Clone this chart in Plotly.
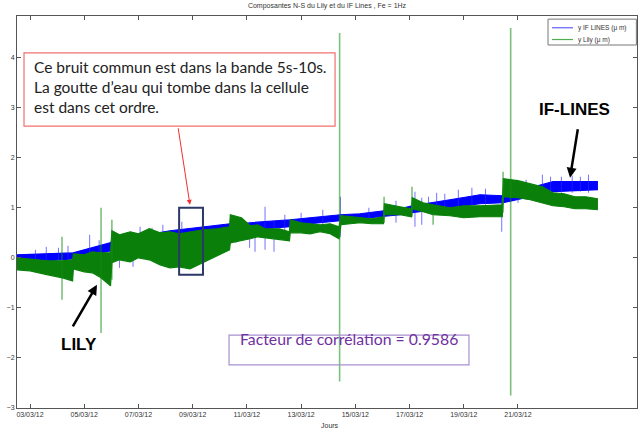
import numpy as np
import pandas as pd
import plotly.graph_objects as go

# ---- data (day of March 2012, values in micrometres) ----
blue_days = [2.52, 3.0, 3.5, 4.1, 4.59, 5.0, 5.62, 5.95, 6.05, 6.7, 7.4, 8.16, 8.8, 9.38, 10.38,
             11.12, 11.67, 12.59, 13.33, 14.07, 14.45, 15.17, 16.06, 16.65, 17.09, 17.87,
             18.49, 19.60, 20.45, 21.0, 21.45, 22.29, 23.10, 23.95]
blue_lo = [-0.10, -0.08, -0.06, -0.04, -0.02, 0.02, 0.10, 0.14, 0.06, 0.16, 0.26, 0.38, 0.42, 0.46, 0.52,
           0.56, 0.58, 0.62, 0.68, 0.72, 0.74, 0.78, 0.82, 0.86, 0.90, 0.96,
           1.00, 1.08, 1.10, 1.16, 1.22, 1.32, 1.34, 1.36]
blue_hi = [0.06, 0.07, 0.08, 0.08, 0.10, 0.16, 0.26, 0.30, 0.34, 0.40, 0.48, 0.54, 0.58, 0.62, 0.68,
           0.70, 0.72, 0.76, 0.80, 0.84, 0.86, 0.88, 0.94, 0.98, 1.04, 1.10,
           1.16, 1.26, 1.24, 1.32, 1.40, 1.52, 1.52, 1.52]

green_days = [2.52, 3.0, 3.66, 4.2, 4.57, 4.60, 5.0, 5.3, 5.62, 5.97, 6.02, 6.3, 6.7, 7.0, 7.4,
              7.8, 8.16, 8.5, 8.9, 9.38, 9.9, 10.36, 10.39, 10.8, 11.12, 11.4, 11.67, 12.2, 12.57,
              12.60, 13.0, 13.33, 13.7, 14.07, 14.40, 14.47, 15.17, 15.6, 16.04, 16.07, 16.65,
              17.07, 17.10, 17.5, 17.87, 18.49, 19.0, 19.60, 20.42, 20.46, 21.0, 21.45, 21.9,
              22.29, 22.7, 23.10, 23.5, 23.95]
green_lo = [-0.24, -0.26, -0.34, -0.40, -0.46, -0.22, -0.28, -0.30, -0.40, -0.56, -0.10, -0.04,
            -0.08, 0.00, -0.04, -0.14, -0.20, -0.18, -0.22, -0.10, 0.04, 0.16, 0.30, 0.34,
            0.38, 0.42, 0.40, 0.36, 0.34, 0.50, 0.50, 0.48, 0.52, 0.48, 0.38, 0.66, 0.70,
            0.68, 0.68, 0.86, 0.86, 0.82, 0.98, 0.92, 0.86, 0.84, 0.80, 0.82, 0.82, 1.22, 1.20,
            1.16, 1.10, 1.04, 1.02, 0.98, 0.98, 0.96]
green_hi = [0.00, -0.02, -0.06, -0.06, -0.04, 0.08, 0.06, 0.12, 0.10, 0.10, 0.54, 0.46, 0.52,
            0.48, 0.58, 0.50, 0.52, 0.48, 0.52, 0.56, 0.58, 0.62, 0.86, 0.80, 0.64, 0.66, 0.58,
            0.58, 0.52, 0.76, 0.70, 0.68, 0.66, 0.68, 0.62, 0.84, 0.80, 0.78, 0.82, 1.08, 1.02,
            0.98, 1.20, 1.10, 1.06, 1.00, 1.04, 1.04, 1.06, 1.58, 1.54, 1.48, 1.42, 1.30, 1.28,
            1.22, 1.22, 1.18]

green_spike_days = [4.18, 5.62, 6.02, 14.42, 16.06, 17.09, 17.87, 20.45, 20.73]
green_spike_lo = [-0.84, -1.50, -0.44, -2.47, 0.70, 0.82, 0.66, 0.90, -2.75]
green_spike_hi = [0.42, 1.00, 0.76, 4.49, 1.22, 1.42, 0.90, 1.72, 4.59]

blue_spike_days = [3.2, 3.6, 4.05, 4.4, 5.2, 5.55, 6.3, 6.8, 7.06, 7.5, 7.9, 8.6, 10.6, 11.1,
                   11.3, 11.67, 12.0, 12.4, 13.0, 13.8, 14.45, 15.5, 16.5, 17.2, 17.45, 17.7,
                   18.0, 18.3, 18.8, 19.3, 19.8, 20.4, 21.0, 21.3, 21.9, 22.2, 22.6, 23.0,
                   23.3, 23.6]
blue_spike_lo = [-0.08, -0.10, -0.05, -0.02, 0.05, 0.10, -0.20, -0.18, 0.10, 0.20, 0.20, 0.30,
                 0.30, 0.20, 0.12, 0.16, 0.12, 0.40, 0.60, 0.66, 0.42, 0.76, 0.70, 0.62, 0.66,
                 0.90, 0.90, 0.96, 0.94, 1.00, 1.06, 0.52, 1.10, 1.16, 1.20, 1.26, 1.30, 1.30,
                 1.32, 1.30]
blue_spike_hi = [0.16, 0.22, 0.20, 0.24, 0.46, 0.35, 0.30, 0.40, 0.62, 0.60, 0.66, 0.72,
                 0.74, 0.72, 0.60, 1.02, 0.74, 0.86, 0.90, 0.96, 1.22, 1.00, 1.14, 1.32, 1.20,
                 1.22, 1.30, 1.28, 1.36, 1.40, 1.38, 1.20, 1.50, 1.56, 1.66, 1.62, 1.62, 1.64,
                 1.62, 1.66]

series_names = ["y IF LINES (\u03bc m)", "y Lily (\u03bc m)"]
y_ticks = [-3, -2, -1, 0, 1, 2, 3, 4]
x_tick_days = [3, 5, 7, 9, 11, 13, 15, 17, 19, 21]

BASE = pd.Timestamp("2012-03-01")


def to_dt(days):
    return [BASE + pd.Timedelta(days=d - 1) for d in days]


def spikes(days, lo, hi):
    xs, ys = [], []
    for d, a, b in zip(to_dt(days), lo, hi):
        xs += [d, d, None]
        ys += [a, b, None]
    return xs, ys


BLUE = "#0000ff"
GREEN = "#0a800a"

fig = go.Figure()
# blue band
fig.add_trace(go.Scatter(x=to_dt(blue_days), y=blue_lo, mode="lines",
                         line=dict(color=BLUE, width=1.2), showlegend=False, hoverinfo="skip"))
fig.add_trace(go.Scatter(x=to_dt(blue_days), y=blue_hi, mode="lines", fill="tonexty",
                         fillcolor=BLUE, line=dict(color=BLUE, width=1.2), name=series_names[0],
                         showlegend=False, hoverinfo="skip"))
bx, by = spikes(blue_spike_days, blue_spike_lo, blue_spike_hi)
fig.add_trace(go.Scatter(x=bx, y=by, mode="lines", line=dict(color="rgba(40,40,255,0.65)", width=1),
                         showlegend=False, hoverinfo="skip"))
# green band
fig.add_trace(go.Scatter(x=to_dt(green_days), y=green_lo, mode="lines",
                         line=dict(color=GREEN, width=1.2), showlegend=False, hoverinfo="skip"))
fig.add_trace(go.Scatter(x=to_dt(green_days), y=green_hi, mode="lines", fill="tonexty",
                         fillcolor=GREEN, line=dict(color=GREEN, width=1.2), name=series_names[1],
                         showlegend=False, hoverinfo="skip"))
gx, gy = spikes(green_spike_days, green_spike_lo, green_spike_hi)
fig.add_trace(go.Scatter(x=gx, y=gy, mode="lines", line=dict(color="rgba(20,140,20,0.55)", width=1.6),
                         showlegend=False, hoverinfo="skip"))

axis_common = dict(showline=True, linecolor="#555555", linewidth=1, mirror="ticks",
                   ticks="inside", ticklen=4, tickcolor="#555555", showgrid=False,
                   zeroline=False, automargin=False,
                   tickfont=dict(family="Liberation Sans", size=7, color="#333333"))

fig.update_layout(
    width=643, height=434,
    margin=dict(l=17, r=6, t=16, b=26),
    paper_bgcolor="white", plot_bgcolor="white",
    title=dict(text="Composantes N-S du Lily et du IF Lines , Fe = 1Hz", x=0.5, xref="paper",
               y=0.987, yref="container", yanchor="middle",
               font=dict(family="Liberation Sans", size=7, color="#333333")),
    xaxis=dict(type="date", range=[BASE + pd.Timedelta(days=1.52), BASE + pd.Timedelta(days=24.39)],
               tickvals=to_dt(x_tick_days), tickformat="%d/%m/%y", **axis_common),
    yaxis=dict(range=[-3, 4.83], tickvals=y_ticks, **axis_common),
    showlegend=False,
)

# compact MATLAB-style legend box
fig.add_shape(type="rect", xref="paper", yref="paper", x0=0.8565, x1=0.999, y0=0.926, y1=0.992,
              line=dict(color="#777777", width=1), fillcolor="white", layer="above")
for name, col, yy in [(series_names[0], "#6060ff", 0.970), (series_names[1], "#4fae4f", 0.940)]:
    fig.add_shape(type="line", xref="paper", yref="paper", x0=0.8629, x1=0.8968, y0=yy, y1=yy,
                  line=dict(color=col, width=1.2), layer="above")
    fig.add_annotation(text=name, xref="paper", yref="paper", x=0.9016, y=yy, xanchor="left",
                       yanchor="middle", showarrow=False,
                       font=dict(family="Liberation Sans", size=6.5, color="#333333"))

# x axis title (partially cut at bottom in the original)
fig.add_annotation(text="Jours", xref="paper", yref="paper", x=0.505, y=-0.058, showarrow=False,
                   font=dict(family="Liberation Sans", size=7, color="#333333"))

# red note box
fig.add_shape(type="rect", xref="paper", yref="paper", x0=0.0113, x1=0.513, y0=0.719, y1=0.906,
              line=dict(color="#f07070", width=1.2), fillcolor="white", layer="above")
fig.add_annotation(text="Ce bruit commun est dans la bande 5s-10s.<br>La goutte d\u2019eau qui tombe dans la cellule<br>est dans cet ordre.",
                   xref="paper", yref="paper", x=0.0245, y=0.897, xanchor="left", yanchor="top",
                   align="left", showarrow=False,
                   font=dict(family="Lato", size=15.5, color="#222222"))
# red arrow to the highlighted box
fig.add_annotation(x=BASE + pd.Timedelta(days=7.90), y=1.06, xref="x", yref="y", text="",
                   showarrow=True, ax=-12, ay=-78, arrowcolor="#f03030", arrowwidth=1,
                   arrowhead=2, arrowsize=1)
# highlighted rectangle
fig.add_shape(type="rect", xref="x", yref="y", x0=BASE + pd.Timedelta(days=7.50),
              x1=BASE + pd.Timedelta(days=8.38), y0=-0.34, y1=1.0,
              line=dict(color="#2b3868", width=2), layer="above")

# LILY label
fig.add_annotation(x=BASE + pd.Timedelta(days=4.47), y=-0.54, text="", showarrow=True,
                   ax=-25, ay=43, arrowcolor="black", arrowwidth=2.5, arrowhead=2, arrowsize=0.8)
fig.add_annotation(x=BASE + pd.Timedelta(days=3.81), y=-1.74, text="<b>LILY</b>", showarrow=False,
                   font=dict(family="Liberation Sans", size=17, color="black"))
# IF-LINES label
fig.add_annotation(x=BASE + pd.Timedelta(days=21.92), y=1.60, text="", showarrow=True,
                   ax=8, ay=-50, arrowcolor="black", arrowwidth=2.5, arrowhead=2, arrowsize=0.8)
fig.add_annotation(x=BASE + pd.Timedelta(days=22.10), y=2.97, text="<b>IF-LINES</b>", showarrow=False,
                   font=dict(family="Liberation Sans", size=17, color="black"))

# correlation box
fig.add_shape(type="rect", xref="paper", yref="paper", x0=0.342, x1=0.729, y0=0.110, y1=0.186,
              line=dict(color="#a890d0", width=1.2), layer="above")
fig.add_annotation(text="Facteur de corr\u00e9lation = 0.9586", xref="paper", yref="paper",
                   x=0.535, y=0.148, showarrow=False,
                   font=dict(family="Lato", size=15.8, color="#7030a0"))

fig.write_html("out.html", config={"displayModeBar": False},
               post_script="document.body.style.margin='0';document.body.style.padding='0';")
